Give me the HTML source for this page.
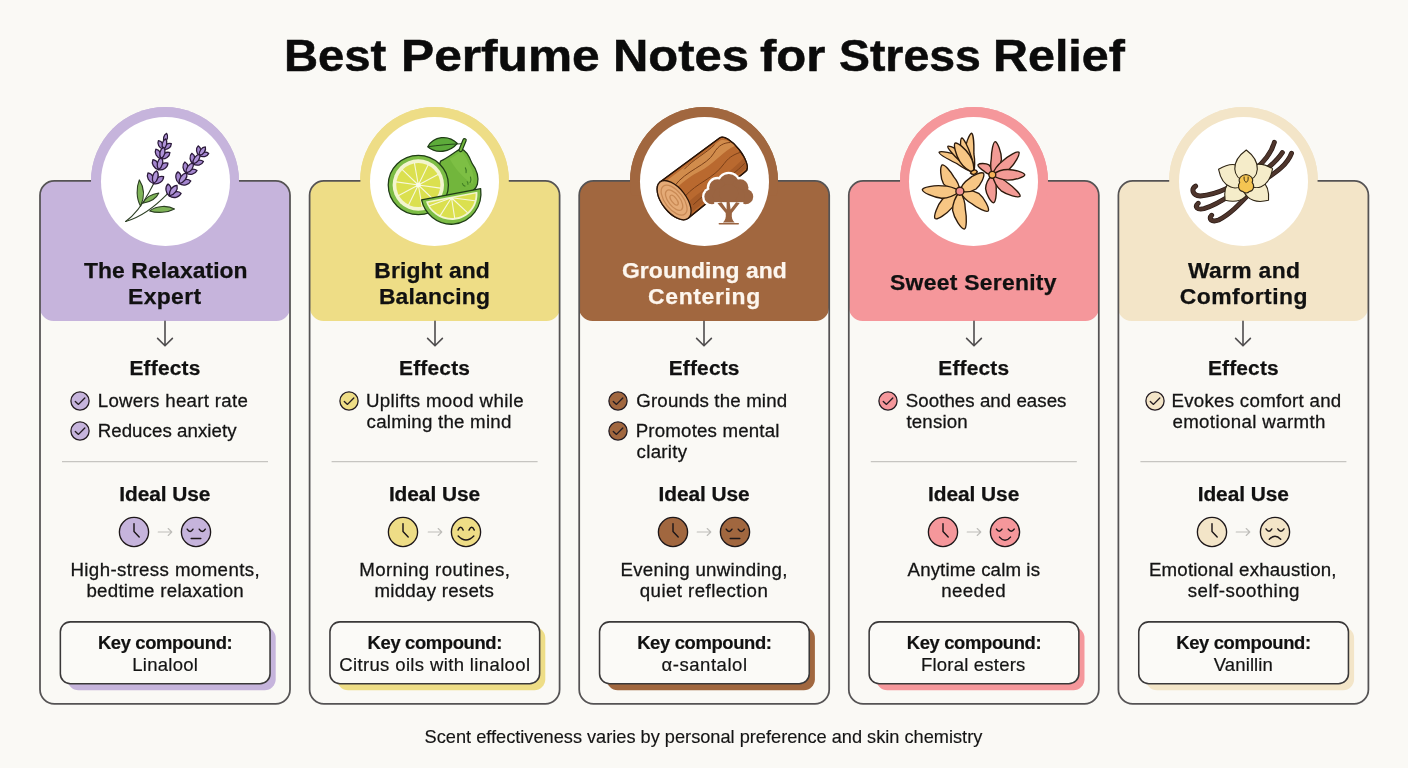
<!DOCTYPE html>
<html lang="en"><head><meta charset="utf-8"><title>Best Perfume Notes for Stress Relief</title>
<style>
*{margin:0;padding:0;box-sizing:border-box}
html,body{width:1408px;height:768px;overflow:hidden}
body{background:#faf9f5;font-family:"Liberation Sans",Arial,sans-serif;color:#111111;position:relative}
.t{position:absolute;white-space:nowrap;line-height:1}
h1{position:absolute;left:0;top:34px;width:1408px;height:44px;font-size:43.8px;font-weight:700;white-space:nowrap;line-height:1;color:#0b0b0b;-webkit-text-stroke:0.5px #0b0b0b}
h1 span{position:absolute;top:0;display:block;transform-origin:0 0}
.head{position:absolute;top:180.9px;width:250px;height:139.8px;border-radius:14.3px 14.3px 13.5px 13.5px}
.ring{position:absolute;width:148.4px;height:148.4px;border-radius:50%}
.disc{position:absolute;width:129px;height:129px;border-radius:50%;background:#fff}
.hd{font-size:22.9px;font-weight:700;-webkit-text-stroke:0.25px currentColor}
.sec{font-size:20.9px;font-weight:700;-webkit-text-stroke:0.25px currentColor}
.b{font-size:18.7px;color:#141414;-webkit-text-stroke:0.28px #141414}
.kb{font-size:18.4px;font-weight:700;-webkit-text-stroke:0.2px currentColor}
.kv{font-size:18.5px;color:#141414;-webkit-text-stroke:0.2px #141414}
svg{position:absolute;overflow:visible}
.foot{font-size:18.2px;color:#141414;-webkit-text-stroke:0.15px #141414}
</style></head>
<body>
<h1><span style="left:283.7px;transform:scaleX(1.0774)">Best</span> <span style="left:401.1px;transform:scaleX(1.1340)">Perfume</span> <span style="left:612.7px;transform:scaleX(1.1171)">Notes</span> <span style="left:759.5px;transform:scaleX(1.1195)">for</span> <span style="left:838.8px;transform:scaleX(1.0588)">Stress</span> <span style="left:992.6px;transform:scaleX(1.1059)">Relief</span></h1>
<div class="ring" style="left:90.8px;top:107.2px;background:#c6b4dc"></div>
<div class="head" style="left:40.00px;background:#c6b4dc"></div>
<svg style="left:0;top:0" width="1408" height="768"><rect x="40.00" y="180.9" width="250" height="522.9" rx="14.3" fill="none" stroke="#555354" stroke-width="1.75"/></svg>
<div class="ring" style="left:90.8px;top:107.2px;background:#c6b4dc;clip-path:inset(0 0 60px 0)"></div>
<div class="disc" style="left:100.5px;top:116.8px"></div>
<svg style="left:95.0px;top:111.0px" width="140" height="140" viewBox="0 0 768 768"><path d="M250 522C226 480 226 420 243 378C270 420 274 470 250 522Z" fill="#7fb458" stroke="#2c3f23" stroke-width="6" stroke-linecap="round" stroke-linejoin="round"/><path d="M300 548C340 518 400 516 436 538C400 558 340 562 300 548Z" fill="#7fb458" stroke="#2c3f23" stroke-width="6" stroke-linecap="round" stroke-linejoin="round"/><path d="M262 506C282 470 318 454 350 450C336 482 300 500 262 506Z" fill="#7fb458" stroke="#2c3f23" stroke-width="6" stroke-linecap="round" stroke-linejoin="round"/><path d="M168 606C215 572 268 500 300 440C314 414 324 396 330 380" fill="none" stroke="#2c3f23" stroke-width="6" stroke-linecap="round" stroke-linejoin="round"/><path d="M168 606C250 584 330 524 400 452" fill="none" stroke="#2c3f23" stroke-width="6" stroke-linecap="round" stroke-linejoin="round"/><path transform="translate(381.0 172.0) rotate(13.5)" d="M0 0C-14.0 -14.1 -14.0 -39.3 0 -50.4C14.0 -39.3 14.0 -14.1 0 0Z" fill="#b094d8" stroke="#2b1a3a" stroke-width="7" stroke-linejoin="round"/><path transform="translate(374.0 210.0) rotate(-28.5)" d="M0 0C-16.4 -15.2 -16.4 -42.4 0 -54.3C16.4 -42.4 16.4 -15.2 0 0Z" fill="#a486cf" stroke="#2b1a3a" stroke-width="7" stroke-linejoin="round"/><path transform="translate(374.0 210.0) rotate(55.5)" d="M0 0C-16.4 -15.2 -16.4 -42.4 0 -54.3C16.4 -42.4 16.4 -15.2 0 0Z" fill="#a486cf" stroke="#2b1a3a" stroke-width="7" stroke-linejoin="round"/><path transform="translate(374.0 210.0) rotate(13.5)" d="M0 0C-16.4 -16.5 -16.4 -46.1 0 -59.0C16.4 -46.1 16.4 -16.5 0 0Z" fill="#b094d8" stroke="#2b1a3a" stroke-width="7" stroke-linejoin="round"/><path transform="translate(362.0 262.0) rotate(-28.5)" d="M0 0C-18.0 -16.7 -18.0 -46.5 0 -59.6C18.0 -46.5 18.0 -16.7 0 0Z" fill="#a486cf" stroke="#2b1a3a" stroke-width="7" stroke-linejoin="round"/><path transform="translate(362.0 262.0) rotate(55.5)" d="M0 0C-18.0 -16.7 -18.0 -46.5 0 -59.6C18.0 -46.5 18.0 -16.7 0 0Z" fill="#a486cf" stroke="#2b1a3a" stroke-width="7" stroke-linejoin="round"/><path transform="translate(362.0 262.0) rotate(13.5)" d="M0 0C-18.0 -18.1 -18.0 -50.5 0 -64.8C18.0 -50.5 18.0 -18.1 0 0Z" fill="#b094d8" stroke="#2b1a3a" stroke-width="7" stroke-linejoin="round"/><path transform="translate(348.0 322.0) rotate(-28.5)" d="M0 0C-19.0 -17.6 -19.0 -49.1 0 -62.9C19.0 -49.1 19.0 -17.6 0 0Z" fill="#a486cf" stroke="#2b1a3a" stroke-width="7" stroke-linejoin="round"/><path transform="translate(348.0 322.0) rotate(55.5)" d="M0 0C-19.0 -17.6 -19.0 -49.1 0 -62.9C19.0 -49.1 19.0 -17.6 0 0Z" fill="#a486cf" stroke="#2b1a3a" stroke-width="7" stroke-linejoin="round"/><path transform="translate(348.0 322.0) rotate(13.5)" d="M0 0C-19.0 -19.2 -19.0 -53.4 0 -68.4C19.0 -53.4 19.0 -19.2 0 0Z" fill="#b094d8" stroke="#2b1a3a" stroke-width="7" stroke-linejoin="round"/><path transform="translate(322.0 398.0) rotate(-28.5)" d="M0 0C-20.0 -18.5 -20.0 -51.7 0 -66.2C20.0 -51.7 20.0 -18.5 0 0Z" fill="#a486cf" stroke="#2b1a3a" stroke-width="7" stroke-linejoin="round"/><path transform="translate(322.0 398.0) rotate(55.5)" d="M0 0C-20.0 -18.5 -20.0 -51.7 0 -66.2C20.0 -51.7 20.0 -18.5 0 0Z" fill="#a486cf" stroke="#2b1a3a" stroke-width="7" stroke-linejoin="round"/><path transform="translate(322.0 398.0) rotate(13.5)" d="M0 0C-20.0 -20.2 -20.0 -56.2 0 -72.0C20.0 -56.2 20.0 -20.2 0 0Z" fill="#b094d8" stroke="#2b1a3a" stroke-width="7" stroke-linejoin="round"/><path transform="translate(572.0 244.0) rotate(-6.4)" d="M0 0C-16.0 -14.8 -16.0 -41.3 0 -53.0C16.0 -41.3 16.0 -14.8 0 0Z" fill="#a486cf" stroke="#2b1a3a" stroke-width="7" stroke-linejoin="round"/><path transform="translate(572.0 244.0) rotate(77.6)" d="M0 0C-16.0 -14.8 -16.0 -41.3 0 -53.0C16.0 -41.3 16.0 -14.8 0 0Z" fill="#a486cf" stroke="#2b1a3a" stroke-width="7" stroke-linejoin="round"/><path transform="translate(572.0 244.0) rotate(35.6)" d="M0 0C-16.0 -16.1 -16.0 -44.9 0 -57.6C16.0 -44.9 16.0 -16.1 0 0Z" fill="#b094d8" stroke="#2b1a3a" stroke-width="7" stroke-linejoin="round"/><path transform="translate(538.0 290.0) rotate(-6.4)" d="M0 0C-17.6 -16.3 -17.6 -45.5 0 -58.3C17.6 -45.5 17.6 -16.3 0 0Z" fill="#a486cf" stroke="#2b1a3a" stroke-width="7" stroke-linejoin="round"/><path transform="translate(538.0 290.0) rotate(77.6)" d="M0 0C-17.6 -16.3 -17.6 -45.5 0 -58.3C17.6 -45.5 17.6 -16.3 0 0Z" fill="#a486cf" stroke="#2b1a3a" stroke-width="7" stroke-linejoin="round"/><path transform="translate(538.0 290.0) rotate(35.6)" d="M0 0C-17.6 -17.7 -17.6 -49.4 0 -63.4C17.6 -49.4 17.6 -17.7 0 0Z" fill="#b094d8" stroke="#2b1a3a" stroke-width="7" stroke-linejoin="round"/><path transform="translate(500.0 340.0) rotate(-6.4)" d="M0 0C-18.4 -17.1 -18.4 -47.5 0 -60.9C18.4 -47.5 18.4 -17.1 0 0Z" fill="#a486cf" stroke="#2b1a3a" stroke-width="7" stroke-linejoin="round"/><path transform="translate(500.0 340.0) rotate(77.6)" d="M0 0C-18.4 -17.1 -18.4 -47.5 0 -60.9C18.4 -47.5 18.4 -17.1 0 0Z" fill="#a486cf" stroke="#2b1a3a" stroke-width="7" stroke-linejoin="round"/><path transform="translate(500.0 340.0) rotate(35.6)" d="M0 0C-18.4 -18.5 -18.4 -51.7 0 -66.2C18.4 -51.7 18.4 -18.5 0 0Z" fill="#b094d8" stroke="#2b1a3a" stroke-width="7" stroke-linejoin="round"/><path transform="translate(462.0 398.0) rotate(-6.4)" d="M0 0C-19.6 -18.2 -19.6 -50.6 0 -64.9C19.6 -50.6 19.6 -18.2 0 0Z" fill="#a486cf" stroke="#2b1a3a" stroke-width="7" stroke-linejoin="round"/><path transform="translate(462.0 398.0) rotate(77.6)" d="M0 0C-19.6 -18.2 -19.6 -50.6 0 -64.9C19.6 -50.6 19.6 -18.2 0 0Z" fill="#a486cf" stroke="#2b1a3a" stroke-width="7" stroke-linejoin="round"/><path transform="translate(462.0 398.0) rotate(35.6)" d="M0 0C-19.6 -19.8 -19.6 -55.0 0 -70.6C19.6 -55.0 19.6 -19.8 0 0Z" fill="#b094d8" stroke="#2b1a3a" stroke-width="7" stroke-linejoin="round"/><path transform="translate(408.0 466.0) rotate(-6.4)" d="M0 0C-20.0 -18.5 -20.0 -51.7 0 -66.2C20.0 -51.7 20.0 -18.5 0 0Z" fill="#a486cf" stroke="#2b1a3a" stroke-width="7" stroke-linejoin="round"/><path transform="translate(408.0 466.0) rotate(77.6)" d="M0 0C-20.0 -18.5 -20.0 -51.7 0 -66.2C20.0 -51.7 20.0 -18.5 0 0Z" fill="#a486cf" stroke="#2b1a3a" stroke-width="7" stroke-linejoin="round"/><path transform="translate(408.0 466.0) rotate(35.6)" d="M0 0C-20.0 -20.2 -20.0 -56.2 0 -72.0C20.0 -56.2 20.0 -20.2 0 0Z" fill="#b094d8" stroke="#2b1a3a" stroke-width="7" stroke-linejoin="round"/></svg>
<div class="t hd" style="left:84.0px;top:259px;letter-spacing:0.06px;color:#111">The Relaxation</div>
<div class="t hd" style="left:128.1px;top:285px;letter-spacing:0.35px;color:#111">Expert</div>
<svg style="left:155.0px;top:320.6px" width="20" height="28" viewBox="0 0 20 28"><path d="M10 0.3V24.4M2.6 17.4L10 24.8L17.4 17.4" fill="none" stroke="#4f4d4e" stroke-width="1.6" stroke-linecap="round" stroke-linejoin="round"/></svg>
<div class="t sec" style="left:129.5px;top:358px;letter-spacing:0.19px;">Effects</div>
<svg style="left:70.3px;top:390.6px" width="20" height="20" viewBox="0 0 20 20"><circle cx="10" cy="10" r="9.1" fill="#c6b4dc" stroke="#241c22" stroke-width="1.3"/><path d="M5.3 10.4L8.5 13.4L14.8 7" fill="none" stroke="#241c22" stroke-width="1.35" stroke-linecap="round" stroke-linejoin="round"/></svg>
<div class="t b" style="left:97.7px;top:392px;letter-spacing:0.30px;">Lowers heart rate</div>
<svg style="left:70.3px;top:420.6px" width="20" height="20" viewBox="0 0 20 20"><circle cx="10" cy="10" r="9.1" fill="#c6b4dc" stroke="#241c22" stroke-width="1.3"/><path d="M5.3 10.4L8.5 13.4L14.8 7" fill="none" stroke="#241c22" stroke-width="1.35" stroke-linecap="round" stroke-linejoin="round"/></svg>
<div class="t b" style="left:97.7px;top:422px;letter-spacing:0.05px;">Reduces anxiety</div>
<svg style="left:0;top:0" width="1408" height="768"><path d="M62.0 461.6H268.0" stroke="#c6c5c1" stroke-width="1.3" fill="none"/></svg>
<div class="t sec" style="left:119.3px;top:484px;letter-spacing:-0.07px;">Ideal Use</div>
<svg style="left:117.8px;top:516.1px" width="32" height="32" viewBox="0 0 32 32"><circle cx="16" cy="16" r="14.6" fill="#c6b4dc" stroke="#1d1719" stroke-width="1.35"/><path d="M16 7.6V15.6L21.2 20.9" fill="none" stroke="#1d1719" stroke-width="1.45" stroke-linecap="round" stroke-linejoin="round"/></svg>
<svg style="left:157.0px;top:526.2px" width="16" height="12" viewBox="0 0 16 12"><path d="M1.2 6H14.6M11.2 2.5L14.8 6L11.2 9.5" fill="none" stroke="#bebdb9" stroke-width="1.1" stroke-linecap="round" stroke-linejoin="round"/></svg>
<svg style="left:180.1px;top:516.1px" width="32" height="32" viewBox="0 0 32 32"><circle cx="16" cy="16" r="14.6" fill="#c6b4dc" stroke="#1d1719" stroke-width="1.35"/><path d="M7.2 13.2Q10.1 17.8 13 13.2M19.2 13.2Q22.3 17.8 25.3 13.2M11.2 22.4H20.8" fill="none" stroke="#1d1719" stroke-width="1.45" stroke-linecap="round" stroke-linejoin="round"/></svg>
<div class="t b" style="left:70.4px;top:561px;letter-spacing:0.40px;">High-stress moments,</div>
<div class="t b" style="left:86.4px;top:582px;letter-spacing:0.27px;">bedtime relaxation</div>
<svg style="left:0;top:0" width="1408" height="768"><rect x="67.50" y="627" width="208.2" height="63.2" rx="11" fill="#c6b4dc"/><rect x="60.35" y="621.85" width="209.7" height="61.9" rx="10" fill="#fbfaf7" stroke="#3a3839" stroke-width="1.55"/></svg>
<div class="t kb" style="left:97.9px;top:634px;letter-spacing:-0.35px;">Key compound:</div>
<div class="t kv" style="left:132.3px;top:656px;letter-spacing:0.26px;">Linalool</div>
<div class="ring" style="left:360.4px;top:107.2px;background:#eedd86"></div>
<div class="head" style="left:309.60px;background:#eedd86"></div>
<svg style="left:0;top:0" width="1408" height="768"><rect x="309.60" y="180.9" width="250" height="522.9" rx="14.3" fill="none" stroke="#555354" stroke-width="1.75"/></svg>
<div class="ring" style="left:360.4px;top:107.2px;background:#eedd86;clip-path:inset(0 0 60px 0)"></div>
<div class="disc" style="left:370.1px;top:116.8px"></div>
<svg style="left:364.1px;top:111.0px" width="140" height="140" viewBox="0 0 768 768"><path d="M420 275C465 255 500 222 530 208C562 214 578 250 592 286C618 322 632 362 622 402C612 434 590 448 560 452L440 476C405 410 395 335 420 275Z" fill="#72b63c" stroke="#1f3d16" stroke-width="7" stroke-linejoin="round" stroke-linecap="round"/><path d="M470 262C500 245 520 232 535 226C556 240 566 270 578 296C600 330 606 370 596 400C560 380 500 320 470 262Z" fill="#86c44a" opacity="0.6"/><path d="M556 312q8 14 4 26M584 362q6 16-2 30M540 398q4 12 14 14M566 388q6 6 4 14" fill="none" stroke="#3f7d24" stroke-width="6" stroke-linecap="round"/><path d="M530 214L552 160" fill="none" stroke="#1f3d16" stroke-width="24" stroke-linecap="round"/><path d="M530 214L552 160" fill="none" stroke="#72b63c" stroke-width="11" stroke-linecap="round"/><path d="M350 196C382 138 462 128 512 178C472 228 394 236 350 196Z" fill="#5dab3a" stroke="#1f3d16" stroke-width="7" stroke-linejoin="round" stroke-linecap="round"/><path d="M352 196C410 188 462 182 530 180" fill="none" stroke="#1f3d16" stroke-width="5" stroke-linecap="round"/><ellipse cx="298" cy="406" rx="165" ry="163" fill="#7cbd45" stroke="#1f3d16" stroke-width="7" stroke-linejoin="round" stroke-linecap="round"/><circle cx="298" cy="406" r="141" fill="#f3f5cf"/><circle cx="298" cy="406" r="121" fill="#dbe04f"/><path d="M298 406L418.8 423.0M298 406L385.8 490.7M298 406L319.2 526.1M298 406L244.5 515.7M298 406L190.3 463.3M298 406L177.2 389.0M298 406L210.2 321.3M298 406L276.8 285.9M298 406L351.5 296.3M298 406L405.7 348.7" stroke="#f7f8dd" stroke-width="6" fill="none" stroke-linecap="round"/><circle cx="298" cy="406" r="13" fill="#fbfce8"/><path d="M316 488L640 426C652 520 592 612 490 621C400 626 332 562 316 488Z" fill="#7cbd45" stroke="#1f3d16" stroke-width="7" stroke-linejoin="round" stroke-linecap="round"/><path d="M340 497L622 443C628 516 580 590 490 598C416 601 356 552 340 497Z" fill="#f3f5cf"/><path d="M352 503L612 453C614 516 572 580 490 587C424 589 368 548 352 503Z" fill="#dbe04f"/><path d="M480 476L418 574M480 476L498 590M480 476L566 556M480 476L608 492M480 476L360 520" stroke="#f7f8dd" stroke-width="6" fill="none" stroke-linecap="round"/></svg>
<div class="t hd" style="left:374.3px;top:259px;letter-spacing:0.12px;color:#111">Bright and</div>
<div class="t hd" style="left:378.9px;top:285px;letter-spacing:0.20px;color:#111">Balancing</div>
<svg style="left:424.6px;top:320.6px" width="20" height="28" viewBox="0 0 20 28"><path d="M10 0.3V24.4M2.6 17.4L10 24.8L17.4 17.4" fill="none" stroke="#4f4d4e" stroke-width="1.6" stroke-linecap="round" stroke-linejoin="round"/></svg>
<div class="t sec" style="left:399.1px;top:358px;letter-spacing:0.19px;">Effects</div>
<svg style="left:338.5px;top:390.6px" width="20" height="20" viewBox="0 0 20 20"><circle cx="10" cy="10" r="9.1" fill="#eedd86" stroke="#241c22" stroke-width="1.3"/><path d="M5.3 10.4L8.5 13.4L14.8 7" fill="none" stroke="#241c22" stroke-width="1.35" stroke-linecap="round" stroke-linejoin="round"/></svg>
<div class="t b" style="left:366.0px;top:392px;letter-spacing:0.35px;">Uplifts mood while</div>
<div class="t b" style="left:366.6px;top:413px;letter-spacing:0.23px;">calming the mind</div>
<svg style="left:0;top:0" width="1408" height="768"><path d="M331.6 461.6H537.6" stroke="#c6c5c1" stroke-width="1.3" fill="none"/></svg>
<div class="t sec" style="left:388.9px;top:484px;letter-spacing:-0.07px;">Ideal Use</div>
<svg style="left:387.4px;top:516.1px" width="32" height="32" viewBox="0 0 32 32"><circle cx="16" cy="16" r="14.6" fill="#eedd86" stroke="#1d1719" stroke-width="1.35"/><path d="M16 7.6V15.6L21.2 20.9" fill="none" stroke="#1d1719" stroke-width="1.45" stroke-linecap="round" stroke-linejoin="round"/></svg>
<svg style="left:426.6px;top:526.2px" width="16" height="12" viewBox="0 0 16 12"><path d="M1.2 6H14.6M11.2 2.5L14.8 6L11.2 9.5" fill="none" stroke="#bebdb9" stroke-width="1.1" stroke-linecap="round" stroke-linejoin="round"/></svg>
<svg style="left:449.7px;top:516.1px" width="32" height="32" viewBox="0 0 32 32"><circle cx="16" cy="16" r="14.6" fill="#eedd86" stroke="#1d1719" stroke-width="1.35"/><path d="M8 14.1Q10.6 8.4 13.2 14.1M19 14.1Q21.7 8.4 24.3 14.1M8.2 19.9Q16 28 23.8 19.9" fill="none" stroke="#1d1719" stroke-width="1.45" stroke-linecap="round" stroke-linejoin="round"/></svg>
<div class="t b" style="left:359.2px;top:561px;letter-spacing:0.40px;">Morning routines,</div>
<div class="t b" style="left:374.5px;top:582px;letter-spacing:0.25px;">midday resets</div>
<svg style="left:0;top:0" width="1408" height="768"><rect x="337.10" y="627" width="208.2" height="63.2" rx="11" fill="#eedd86"/><rect x="329.95" y="621.85" width="209.7" height="61.9" rx="10" fill="#fbfaf7" stroke="#3a3839" stroke-width="1.55"/></svg>
<div class="t kb" style="left:367.6px;top:634px;letter-spacing:-0.35px;">Key compound:</div>
<div class="t kv" style="left:339.2px;top:656px;letter-spacing:0.37px;">Citrus oils with linalool</div>
<div class="ring" style="left:630.0px;top:107.2px;background:#a1673f"></div>
<div class="head" style="left:579.20px;background:#a1673f"></div>
<svg style="left:0;top:0" width="1408" height="768"><rect x="579.20" y="180.9" width="250" height="522.9" rx="14.3" fill="none" stroke="#555354" stroke-width="1.75"/></svg>
<div class="ring" style="left:630.0px;top:107.2px;background:#a1673f;clip-path:inset(0 0 60px 0)"></div>
<div class="disc" style="left:639.7px;top:116.8px"></div>
<svg style="left:634.1px;top:111.0px" width="140" height="140" viewBox="0 0 768 768"><g transform="translate(220 489) rotate(-37.8)"><path d="M0 -126L408 -116A44 116 0 0 1 408 116L0 126A66 126 0 0 1 0 -126Z" fill="#b9692f" stroke="#2a1508" stroke-width="7" stroke-linejoin="round" stroke-linecap="round"/><path d="M20 -110L400 -104C430 -92 442 -60 446 -30C380 -50 300 -20 200 -40C120 -55 60 -40 30 -50Z" fill="#d18c4c"/><path d="M40 60C160 40 280 80 448 50C446 76 438 94 426 104L40 112Z" fill="#a85c28"/><path d="M50 -60C150 -90 260 -40 330 -70C380 -90 410 -80 436 -62M60 20C160 0 240 40 340 10C390 -5 425 8 450 16M70 84C200 70 300 96 428 78M150 -100C220 -112 300 -96 360 -104" fill="none" stroke="#7a3f18" stroke-width="5" stroke-linecap="round"/><path d="M0 -126L408 -116A44 116 0 0 1 408 116L0 126" fill="none" stroke="#2a1508" stroke-width="7" stroke-linejoin="round" stroke-linecap="round"/><ellipse cx="0" cy="0" rx="66" ry="126" fill="#e5ab77" stroke="#2a1508" stroke-width="7" stroke-linejoin="round" stroke-linecap="round"/><ellipse cx="0" cy="0" rx="49" ry="97" fill="none" stroke="#c98a55" stroke-width="7"/><ellipse cx="0" cy="0" rx="32" ry="66" fill="none" stroke="#c98a55" stroke-width="7"/><ellipse cx="0" cy="0" rx="14" ry="32" fill="none" stroke="#c98a55" stroke-width="7"/></g><circle cx="520" cy="402" r="69" fill="#fff"/><circle cx="458" cy="420" r="59" fill="#fff"/><circle cx="582" cy="420" r="59" fill="#fff"/><circle cx="428" cy="470" r="55" fill="#fff"/><circle cx="612" cy="470" r="55" fill="#fff"/><circle cx="480" cy="468" r="61" fill="#fff"/><circle cx="560" cy="468" r="61" fill="#fff"/><circle cx="520" cy="452" r="65" fill="#fff"/><path d="M503 560C506 585 500 602 488 612L552 612C540 602 534 585 537 560L580 505L560 500L530 540L524 495L508 495L508 540L480 500L458 506Z" fill="#fff" stroke="#fff" stroke-width="22" stroke-linejoin="round"/><circle cx="520" cy="402" r="56" fill="#9a6441"/><circle cx="458" cy="420" r="46" fill="#9a6441"/><circle cx="582" cy="420" r="46" fill="#9a6441"/><circle cx="428" cy="470" r="42" fill="#9a6441"/><circle cx="612" cy="470" r="42" fill="#9a6441"/><circle cx="480" cy="468" r="48" fill="#9a6441"/><circle cx="560" cy="468" r="48" fill="#9a6441"/><circle cx="520" cy="452" r="52" fill="#9a6441"/><path d="M440 500L600 500L600 520L440 520Z" fill="#fff"/><path d="M503 560C506 585 500 602 488 612L552 612C540 602 534 585 537 560L580 505L560 500L530 540L524 495L508 495L508 540L480 500L458 506Z" fill="#9a6441"/><path d="M468 619L572 619" stroke="#9a6441" stroke-width="8" stroke-linecap="round"/></svg>
<div class="t hd" style="left:622.0px;top:259px;letter-spacing:0.06px;color:#fdf6ee">Grounding and</div>
<div class="t hd" style="left:648.1px;top:285px;letter-spacing:0.66px;color:#fdf6ee">Centering</div>
<svg style="left:694.2px;top:320.6px" width="20" height="28" viewBox="0 0 20 28"><path d="M10 0.3V24.4M2.6 17.4L10 24.8L17.4 17.4" fill="none" stroke="#4f4d4e" stroke-width="1.6" stroke-linecap="round" stroke-linejoin="round"/></svg>
<div class="t sec" style="left:668.7px;top:358px;letter-spacing:0.19px;">Effects</div>
<svg style="left:608.2px;top:390.6px" width="20" height="20" viewBox="0 0 20 20"><circle cx="10" cy="10" r="9.1" fill="#a1673f" stroke="#241c22" stroke-width="1.3"/><path d="M5.3 10.4L8.5 13.4L14.8 7" fill="none" stroke="#241c22" stroke-width="1.35" stroke-linecap="round" stroke-linejoin="round"/></svg>
<div class="t b" style="left:636.3px;top:392px;letter-spacing:0.15px;">Grounds the mind</div>
<svg style="left:608.2px;top:420.6px" width="20" height="20" viewBox="0 0 20 20"><circle cx="10" cy="10" r="9.1" fill="#a1673f" stroke="#241c22" stroke-width="1.3"/><path d="M5.3 10.4L8.5 13.4L14.8 7" fill="none" stroke="#241c22" stroke-width="1.35" stroke-linecap="round" stroke-linejoin="round"/></svg>
<div class="t b" style="left:635.7px;top:422px;letter-spacing:0.18px;">Promotes mental</div>
<div class="t b" style="left:636.6px;top:443px;letter-spacing:0.28px;">clarity</div>
<div class="t sec" style="left:658.5px;top:484px;letter-spacing:-0.07px;">Ideal Use</div>
<svg style="left:657.0px;top:516.1px" width="32" height="32" viewBox="0 0 32 32"><circle cx="16" cy="16" r="14.6" fill="#a1673f" stroke="#1d1719" stroke-width="1.35"/><path d="M16 7.6V15.6L21.2 20.9" fill="none" stroke="#1d1719" stroke-width="1.45" stroke-linecap="round" stroke-linejoin="round"/></svg>
<svg style="left:696.2px;top:526.2px" width="16" height="12" viewBox="0 0 16 12"><path d="M1.2 6H14.6M11.2 2.5L14.8 6L11.2 9.5" fill="none" stroke="#bebdb9" stroke-width="1.1" stroke-linecap="round" stroke-linejoin="round"/></svg>
<svg style="left:719.3px;top:516.1px" width="32" height="32" viewBox="0 0 32 32"><circle cx="16" cy="16" r="14.6" fill="#a1673f" stroke="#1d1719" stroke-width="1.35"/><path d="M7.2 13.2Q10.1 17.8 13 13.2M19.2 13.2Q22.3 17.8 25.3 13.2M11.2 22.4H20.8" fill="none" stroke="#1d1719" stroke-width="1.45" stroke-linecap="round" stroke-linejoin="round"/></svg>
<div class="t b" style="left:620.4px;top:561px;letter-spacing:0.29px;">Evening unwinding,</div>
<div class="t b" style="left:639.8px;top:582px;letter-spacing:0.43px;">quiet reflection</div>
<svg style="left:0;top:0" width="1408" height="768"><rect x="606.70" y="627" width="208.2" height="63.2" rx="11" fill="#a1673f"/><rect x="599.55" y="621.85" width="209.7" height="61.9" rx="10" fill="#fbfaf7" stroke="#3a3839" stroke-width="1.55"/></svg>
<div class="t kb" style="left:637.2px;top:634px;letter-spacing:-0.35px;">Key compound:</div>
<div class="t kv" style="left:661.5px;top:656px;letter-spacing:0.55px;">α-santalol</div>
<div class="ring" style="left:899.6px;top:107.2px;background:#f5979b"></div>
<div class="head" style="left:848.80px;background:#f5979b"></div>
<svg style="left:0;top:0" width="1408" height="768"><rect x="848.80" y="180.9" width="250" height="522.9" rx="14.3" fill="none" stroke="#555354" stroke-width="1.75"/></svg>
<div class="ring" style="left:899.6px;top:107.2px;background:#f5979b;clip-path:inset(0 0 60px 0)"></div>
<div class="disc" style="left:909.3px;top:116.8px"></div>
<svg style="left:903.1px;top:111.0px" width="140" height="140" viewBox="0 0 768 768"><path d="M388.0 338.0C374.6 308.5 352.9 276.0 316.9 250.1C273.4 228.4 204.9 218.7 198.0 226.0C195.5 234.6 251.1 266.3 294.6 288.0C330.5 313.9 362.4 329.4 388.0 338.0Z" fill="#f7c684" stroke="#2c1a0c" stroke-width="7.5" stroke-linejoin="round"/><path d="M388.0 338.0C382.8 309.1 370.6 275.7 344.1 244.9C311.3 214.9 254.3 188.7 246.0 194.0C241.1 201.7 279.9 245.8 312.8 275.8C339.2 306.6 365.5 326.1 388.0 338.0Z" fill="#f7c684" stroke="#2c1a0c" stroke-width="7.5" stroke-linejoin="round"/><path d="M388.0 338.0C393.7 311.7 395.6 276.9 388.8 234.0C389.8 186.2 386.4 123.6 376.0 122.0C364.6 124.8 337.9 189.1 336.9 236.8C343.7 279.8 365.1 313.3 388.0 338.0Z" fill="#f7c684" stroke="#2c1a0c" stroke-width="7.5" stroke-linejoin="round"/><path d="M388.0 338.0C389.8 311.8 386.3 279.0 371.4 241.6C358.3 199.3 331.9 146.7 322.0 148.0C312.9 153.3 313.0 215.0 326.1 257.3C341.0 294.7 364.8 320.5 388.0 338.0Z" fill="#f7c684" stroke="#2c1a0c" stroke-width="7.5" stroke-linejoin="round"/><path d="M388.0 338.0C390.7 309.2 386.5 275.6 366.1 243.2C343.7 207.5 298.4 170.5 286.0 176.0C275.6 184.8 289.5 241.7 312.0 277.3C332.4 309.7 360.9 327.9 388.0 338.0Z" fill="#f7c684" stroke="#2c1a0c" stroke-width="7.5" stroke-linejoin="round"/><path d="M370 340C380 320 400 318 408 334C398 350 380 352 370 340Z" fill="#f3b45c" stroke="#2c1a0c" stroke-width="7.5" stroke-linejoin="round"/><path d="M490.0 350.0C490.2 330.0 486.2 309.2 472.1 295.9C453.7 285.4 418.4 286.8 412.0 294.0C407.6 301.8 428.0 321.1 446.4 331.6C460.5 345.0 476.1 349.7 490.0 350.0Z" fill="#f39b95" stroke="#2c1a0c" stroke-width="7.5" stroke-linejoin="round"/><path d="M490.0 350.0C470.8 369.3 454.4 394.6 453.1 425.5C456.5 459.3 483.4 502.9 496.0 504.0C507.8 502.0 514.5 457.0 511.1 423.2C512.4 392.3 502.7 368.0 490.0 350.0Z" fill="#f39b95" stroke="#2c1a0c" stroke-width="7.5" stroke-linejoin="round"/><path d="M490.0 350.0C496.2 379.7 509.9 412.2 538.7 437.9C573.5 462.1 633.0 476.4 642.0 468.0C647.5 457.8 607.8 417.9 573.1 393.6C544.3 367.9 515.1 355.4 490.0 350.0Z" fill="#f39b95" stroke="#2c1a0c" stroke-width="7.5" stroke-linejoin="round"/><path d="M490.0 350.0C512.6 330.0 533.6 302.5 540.1 266.4C540.9 226.1 518.0 170.9 506.0 168.0C494.6 168.8 485.1 221.2 484.3 261.5C477.8 297.6 481.9 327.3 490.0 350.0Z" fill="#f39b95" stroke="#2c1a0c" stroke-width="7.5" stroke-linejoin="round"/><path d="M490.0 350.0C519.7 349.4 553.5 341.9 583.8 318.4C615.0 290.0 642.6 236.7 636.0 226.0C626.8 218.1 577.4 245.8 546.3 274.2C515.9 297.7 499.0 325.1 490.0 350.0Z" fill="#f39b95" stroke="#2c1a0c" stroke-width="7.5" stroke-linejoin="round"/><path d="M490.0 350.0C511.4 365.9 539.8 379.0 575.4 379.0C614.6 379.0 666.2 362.2 668.0 350.0C666.2 337.8 614.6 321.0 575.4 321.0C539.8 321.0 511.4 334.1 490.0 350.0Z" fill="#f39b95" stroke="#2c1a0c" stroke-width="7.5" stroke-linejoin="round"/><circle cx="490" cy="350" r="19" fill="#f5b25a" stroke="#2c1a0c" stroke-width="7.5" stroke-linejoin="round"/><path d="M312.0 440.0C310.4 415.8 301.6 388.1 278.7 361.5C259.9 328.0 226.3 289.7 214.0 296.0C202.7 305.8 203.6 366.3 222.5 399.8C245.4 426.4 279.5 436.8 312.0 440.0Z" fill="#f7c684" stroke="#2c1a0c" stroke-width="7.5" stroke-linejoin="round"/><path d="M312.0 440.0C323.3 463.7 343.0 488.6 376.1 507.3C408.8 533.5 458.6 558.3 468.0 548.0C474.8 534.8 447.5 477.5 414.9 451.4C381.7 432.7 344.5 433.0 312.0 440.0Z" fill="#f7c684" stroke="#2c1a0c" stroke-width="7.5" stroke-linejoin="round"/><path d="M312.0 440.0C279.8 443.6 244.5 455.3 216.3 484.4C187.2 518.2 166.3 578.5 176.0 590.0C188.1 598.2 239.1 565.2 268.2 531.4C296.4 502.4 308.3 469.4 312.0 440.0Z" fill="#f7c684" stroke="#2c1a0c" stroke-width="7.5" stroke-linejoin="round"/><path d="M312.0 440.0C289.6 467.9 271.1 503.7 272.1 545.8C280.6 591.2 320.6 647.7 336.0 648.0C349.8 644.3 350.1 583.1 341.7 537.7C340.7 495.7 327.9 463.5 312.0 440.0Z" fill="#f7c684" stroke="#2c1a0c" stroke-width="7.5" stroke-linejoin="round"/><path d="M312.0 440.0C341.0 446.0 373.4 445.7 400.7 427.9C428.2 404.9 449.5 354.6 442.0 342.0C432.3 331.8 387.3 350.6 359.8 373.6C332.5 391.4 318.5 416.2 312.0 440.0Z" fill="#f7c684" stroke="#2c1a0c" stroke-width="7.5" stroke-linejoin="round"/><path d="M312.0 440.0C287.9 423.4 255.4 410.1 214.1 410.4C168.9 407.1 108.6 418.1 106.0 432.0C107.5 446.6 166.2 475.0 211.5 478.4C252.8 478.1 286.4 460.8 312.0 440.0Z" fill="#f7c684" stroke="#2c1a0c" stroke-width="7.5" stroke-linejoin="round"/><circle cx="312" cy="440" r="22" fill="#f08f8f" stroke="#2c1a0c" stroke-width="7.5" stroke-linejoin="round"/></svg>
<div class="t hd" style="left:890.0px;top:271px;letter-spacing:0.28px;color:#111">Sweet Serenity</div>
<svg style="left:963.8px;top:320.6px" width="20" height="28" viewBox="0 0 20 28"><path d="M10 0.3V24.4M2.6 17.4L10 24.8L17.4 17.4" fill="none" stroke="#4f4d4e" stroke-width="1.6" stroke-linecap="round" stroke-linejoin="round"/></svg>
<div class="t sec" style="left:938.3px;top:358px;letter-spacing:0.19px;">Effects</div>
<svg style="left:878.1px;top:390.6px" width="20" height="20" viewBox="0 0 20 20"><circle cx="10" cy="10" r="9.1" fill="#f5979b" stroke="#241c22" stroke-width="1.3"/><path d="M5.3 10.4L8.5 13.4L14.8 7" fill="none" stroke="#241c22" stroke-width="1.35" stroke-linecap="round" stroke-linejoin="round"/></svg>
<div class="t b" style="left:905.8px;top:392px;letter-spacing:0.04px;">Soothes and eases</div>
<div class="t b" style="left:906.4px;top:413px;letter-spacing:0.17px;">tension</div>
<svg style="left:0;top:0" width="1408" height="768"><path d="M870.8 461.6H1076.8" stroke="#c6c5c1" stroke-width="1.3" fill="none"/></svg>
<div class="t sec" style="left:928.1px;top:484px;letter-spacing:-0.07px;">Ideal Use</div>
<svg style="left:926.6px;top:516.1px" width="32" height="32" viewBox="0 0 32 32"><circle cx="16" cy="16" r="14.6" fill="#f5979b" stroke="#1d1719" stroke-width="1.35"/><path d="M16 7.6V15.6L21.2 20.9" fill="none" stroke="#1d1719" stroke-width="1.45" stroke-linecap="round" stroke-linejoin="round"/></svg>
<svg style="left:965.8px;top:526.2px" width="16" height="12" viewBox="0 0 16 12"><path d="M1.2 6H14.6M11.2 2.5L14.8 6L11.2 9.5" fill="none" stroke="#bebdb9" stroke-width="1.1" stroke-linecap="round" stroke-linejoin="round"/></svg>
<svg style="left:988.9px;top:516.1px" width="32" height="32" viewBox="0 0 32 32"><circle cx="16" cy="16" r="14.6" fill="#f5979b" stroke="#1d1719" stroke-width="1.35"/><path d="M7.4 13.1Q10.2 17.3 13 13.1M19.2 13.1Q22.2 17.3 25.2 13.1M10.5 21.1Q16 27.5 21.5 21.1" fill="none" stroke="#1d1719" stroke-width="1.45" stroke-linecap="round" stroke-linejoin="round"/></svg>
<div class="t b" style="left:907.6px;top:561px;letter-spacing:0.11px;">Anytime calm is</div>
<div class="t b" style="left:941.3px;top:582px;letter-spacing:0.38px;">needed</div>
<svg style="left:0;top:0" width="1408" height="768"><rect x="876.30" y="627" width="208.2" height="63.2" rx="11" fill="#f5979b"/><rect x="869.15" y="621.85" width="209.7" height="61.9" rx="10" fill="#fbfaf7" stroke="#3a3839" stroke-width="1.55"/></svg>
<div class="t kb" style="left:906.8px;top:634px;letter-spacing:-0.35px;">Key compound:</div>
<div class="t kv" style="left:921.0px;top:656px;letter-spacing:0.21px;">Floral esters</div>
<div class="ring" style="left:1169.2px;top:107.2px;background:#f3e5c8"></div>
<div class="head" style="left:1118.40px;background:#f3e5c8"></div>
<svg style="left:0;top:0" width="1408" height="768"><rect x="1118.40" y="180.9" width="250" height="522.9" rx="14.3" fill="none" stroke="#555354" stroke-width="1.75"/></svg>
<div class="ring" style="left:1169.2px;top:107.2px;background:#f3e5c8;clip-path:inset(0 0 60px 0)"></div>
<div class="disc" style="left:1178.9px;top:116.8px"></div>
<svg style="left:1173.1px;top:111.0px" width="140" height="140" viewBox="0 0 768 768"><path d="M124 412C100 428 104 462 150 466C230 460 330 420 440 330C500 280 540 230 556 172" fill="none" stroke="#2a1a15" stroke-width="27" stroke-linecap="round" stroke-linejoin="round"/><path d="M124 412C100 428 104 462 150 466C230 460 330 420 440 330C500 280 540 230 556 172" fill="none" stroke="#4e352c" stroke-width="19" stroke-linecap="round" stroke-linejoin="round"/><path d="M138 506C118 524 130 544 170 536C260 510 380 420 500 330C550 290 580 260 600 228" fill="none" stroke="#2a1a15" stroke-width="27" stroke-linecap="round" stroke-linejoin="round"/><path d="M138 506C118 524 130 544 170 536C260 510 380 420 500 330C550 290 580 260 600 228" fill="none" stroke="#4e352c" stroke-width="19" stroke-linecap="round" stroke-linejoin="round"/><path d="M212 572C192 592 212 612 250 598C330 560 400 470 470 400C540 350 620 310 650 232" fill="none" stroke="#2a1a15" stroke-width="27" stroke-linecap="round" stroke-linejoin="round"/><path d="M212 572C192 592 212 612 250 598C330 560 400 470 470 400C540 350 620 310 650 232" fill="none" stroke="#4e352c" stroke-width="19" stroke-linecap="round" stroke-linejoin="round"/><path d="M400 385C340.9 339.2 271.4 387.2 286 490C387.3 513.0 440.8 447.6 400 385Z" fill="#f5ecc9" stroke="#2e2414" stroke-width="6" stroke-linejoin="round"/><path d="M400 385C362.3 449.7 421.6 515.4 524 490C532.2 384.8 457.6 337.1 400 385Z" fill="#f5ecc9" stroke="#2e2414" stroke-width="6" stroke-linejoin="round"/><path d="M400 385C418.8 308.7 342.7 262.2 250 320C271.3 427.2 357.2 450.9 400 385Z" fill="#f5ecc9" stroke="#2e2414" stroke-width="6" stroke-linejoin="round"/><path d="M400 385C444.8 449.5 528.9 423.5 546 316C452.1 260.9 378.6 309.4 400 385Z" fill="#f5ecc9" stroke="#2e2414" stroke-width="6" stroke-linejoin="round"/><path d="M400 385C476.4 372.2 489.7 280.0 402 214C312.8 277.9 323.9 370.4 400 385Z" fill="#f5ecc9" stroke="#2e2414" stroke-width="6" stroke-linejoin="round"/><path d="M400 348C372 350 356 372 366 392C352 410 360 440 384 442C392 452 410 452 418 442C442 440 450 410 434 392C444 372 428 350 400 348Z" fill="#f5c552" stroke="#2e2414" stroke-width="6" stroke-linejoin="round"/><path d="M390 362C388 382 396 390 402 390C408 390 414 382 412 362" fill="none" stroke="#2e2414" stroke-width="5" stroke-linecap="round"/></svg>
<div class="t hd" style="left:1188.0px;top:259px;letter-spacing:0.30px;color:#111">Warm and</div>
<div class="t hd" style="left:1179.7px;top:285px;letter-spacing:0.50px;color:#111">Comforting</div>
<svg style="left:1233.4px;top:320.6px" width="20" height="28" viewBox="0 0 20 28"><path d="M10 0.3V24.4M2.6 17.4L10 24.8L17.4 17.4" fill="none" stroke="#4f4d4e" stroke-width="1.6" stroke-linecap="round" stroke-linejoin="round"/></svg>
<div class="t sec" style="left:1207.9px;top:358px;letter-spacing:0.19px;">Effects</div>
<svg style="left:1144.7px;top:390.6px" width="20" height="20" viewBox="0 0 20 20"><circle cx="10" cy="10" r="9.1" fill="#f3e5c8" stroke="#241c22" stroke-width="1.3"/><path d="M5.3 10.4L8.5 13.4L14.8 7" fill="none" stroke="#241c22" stroke-width="1.35" stroke-linecap="round" stroke-linejoin="round"/></svg>
<div class="t b" style="left:1171.5px;top:392px;letter-spacing:0.27px;">Evokes comfort and</div>
<div class="t b" style="left:1172.4px;top:413px;letter-spacing:0.37px;">emotional warmth</div>
<svg style="left:0;top:0" width="1408" height="768"><path d="M1140.4 461.6H1346.4" stroke="#c6c5c1" stroke-width="1.3" fill="none"/></svg>
<div class="t sec" style="left:1197.7px;top:484px;letter-spacing:-0.07px;">Ideal Use</div>
<svg style="left:1196.2px;top:516.1px" width="32" height="32" viewBox="0 0 32 32"><circle cx="16" cy="16" r="14.6" fill="#f3e5c8" stroke="#1d1719" stroke-width="1.35"/><path d="M16 7.6V15.6L21.2 20.9" fill="none" stroke="#1d1719" stroke-width="1.45" stroke-linecap="round" stroke-linejoin="round"/></svg>
<svg style="left:1235.4px;top:526.2px" width="16" height="12" viewBox="0 0 16 12"><path d="M1.2 6H14.6M11.2 2.5L14.8 6L11.2 9.5" fill="none" stroke="#bebdb9" stroke-width="1.1" stroke-linecap="round" stroke-linejoin="round"/></svg>
<svg style="left:1258.5px;top:516.1px" width="32" height="32" viewBox="0 0 32 32"><circle cx="16" cy="16" r="14.6" fill="#f3e5c8" stroke="#1d1719" stroke-width="1.35"/><path d="M7 12.9Q10 17.4 12.8 12.9M18.8 12.9Q22 17.4 25 12.9M10.3 23.3Q16 17.4 21.7 23.3" fill="none" stroke="#1d1719" stroke-width="1.45" stroke-linecap="round" stroke-linejoin="round"/></svg>
<div class="t b" style="left:1148.9px;top:561px;letter-spacing:0.19px;">Emotional exhaustion,</div>
<div class="t b" style="left:1187.7px;top:582px;letter-spacing:0.48px;">self-soothing</div>
<svg style="left:0;top:0" width="1408" height="768"><rect x="1145.90" y="627" width="208.2" height="63.2" rx="11" fill="#f3e5c8"/><rect x="1138.75" y="621.85" width="209.7" height="61.9" rx="10" fill="#fbfaf7" stroke="#3a3839" stroke-width="1.55"/></svg>
<div class="t kb" style="left:1176.3px;top:634px;letter-spacing:-0.35px;">Key compound:</div>
<div class="t kv" style="left:1213.8px;top:656px;letter-spacing:0.11px;">Vanillin</div>
<div class="t foot" style="left:424.6px;top:728px;letter-spacing:-0.00px;">Scent effectiveness varies by personal preference and skin chemistry</div>
</body></html>
